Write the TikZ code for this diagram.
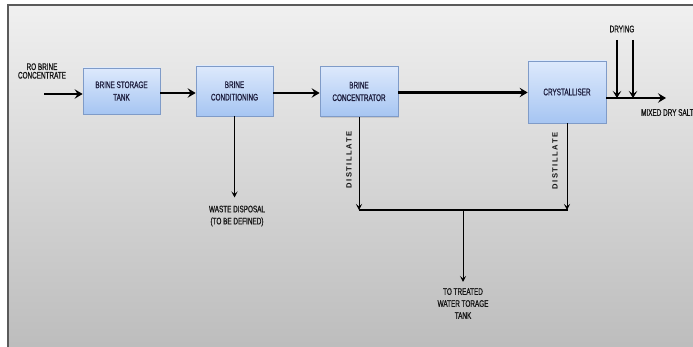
\documentclass[tikz,border=0pt]{standalone}
\usepackage{fontspec}
\setmainfont{Liberation Sans}
\newfontfamily\narrowfont[FakeStretch=0.67,FakeBold=0.8]{Liberation Sans}
\newfontfamily\distfont[LetterSpace=20]{Liberation Sans}
\usetikzlibrary{arrows.meta,shadows}
\definecolor{bgtop}{HTML}{F0F0F0}
\definecolor{bgbot}{HTML}{BCBCBC}
\definecolor{framecol}{HTML}{5A5A5A}
\definecolor{boxtop}{HTML}{DDE9FC}
\definecolor{boxbot}{HTML}{A6C5F2}
\definecolor{boxborder}{HTML}{7F9BC8}
\definecolor{boxtext}{HTML}{1C1C3C}
\definecolor{inktext}{HTML}{151515}
\begin{document}
\begin{tikzpicture}[x=1pt,y=-1pt,
  box/.style={draw=boxborder, line width=0.8pt, top color=boxtop, bottom color=boxbot,
    inner sep=0pt, align=center, text=boxtext,
    font=\narrowfont\fontsize{9.5}{12.5}\selectfont,
    drop shadow={shadow xshift=1.2pt, shadow yshift=-1.5pt, opacity=0.25}},
  lbl/.style={inner xsep=1pt, align=center, text=inktext, font=\narrowfont\fontsize{9.5}{12}\selectfont},
  distlbl/.style={inner sep=0pt, rotate=90, text=inktext, font=\distfont\bfseries\fontsize{7.6}{9}\selectfont},
  mainflow/.style={line width=2.5pt, -{Stealth[length=8pt,width=9.5pt,inset=3pt]}},
  dryflow/.style={line width=1.9pt, -{Stealth[length=7pt,width=8.5pt,inset=3pt]}},
  thinflow/.style={line width=1pt, -{Stealth[length=6pt,width=6pt,inset=2.5pt]}},
  collector/.style={line width=1.8pt}
]
\useasboundingbox (0,0) rectangle (693,347);
% background panel
\shade[top color=bgtop, bottom color=bgbot] (8,5) rectangle (700,352);
\draw[framecol, line width=1.2pt] (8,352) -- (8,5) -- (700,5);

% boxes
\node[box, minimum width=77pt, minimum height=46pt] (bst) at (121.5,91) {BRINE STORAGE\\TANK};
\node[box, minimum width=77pt, minimum height=50pt] (bcond) at (234.5,91) {BRINE\\CONDITIONING};
\node[box, minimum width=78pt, minimum height=50pt] (bconc) at (359,91.5) {BRINE\\CONCENTRATOR};
\node[box, minimum width=78pt, minimum height=62pt] (cryst) at (567,92) {CRYSTALLISER};

% labels
\node[lbl, font=\narrowfont\fontsize{9.5}{8.6}\selectfont] (ro) at (42,71) {RO BRINE\\CONCENTRATE};
\node[lbl, inner ysep=8pt] (waste) at (237,216) {WASTE DISPOSAL\\(TO BE DEFINED)};
\node[lbl, inner ysep=6pt] (treat) at (463,303.5) {TO TREATED\\WATER TORAGE\\TANK};
\node[lbl] (drying) at (622,29) {DRYING};
\node[lbl, anchor=west] (salt) at (640,112.5) {MIXED DRY SALT};
\node[distlbl] (dist1) at (349,160) {DISTILLATE};
\node[distlbl] (dist2) at (555,161) {DISTILLATE};

% coordinates for free ends
\coordinate (in) at (44,94);
\coordinate (outend) at (666,98);
\coordinate (d1) at (617,40);
\coordinate (d2) at (633,40);
\coordinate (cm) at (463,210);

% main flow
\draw[mainflow] (in) -- (in -| bst.west);
\draw[mainflow] (bst.east |- 0,93) -- (bcond.west |- 0,93);
\draw[mainflow] (bcond.east |- 0,93) -- (bconc.west |- 0,93);
\draw[mainflow] (bconc.east |- 0,92.5) -- (cryst.west |- 0,92.5);
\draw[mainflow] (cryst.east |- outend) -- (outend);
\draw[dryflow] (d1) -- (d1 |- outend);
\draw[dryflow] (d2) -- (d2 |- outend);

% side streams
\draw[thinflow] (bcond.south) -- (bcond.south |- waste.north);
\draw[thinflow] (bconc.south) -- (bconc.south |- cm);
\draw[thinflow] (cryst.south) -- (cryst.south |- cm);
\draw[collector] ([xshift=-0.5pt]bconc.south |- cm) -- ([xshift=0.5pt]cryst.south |- cm);
\draw[thinflow] (cm) -- (treat.north);
\end{tikzpicture}
\end{document}
